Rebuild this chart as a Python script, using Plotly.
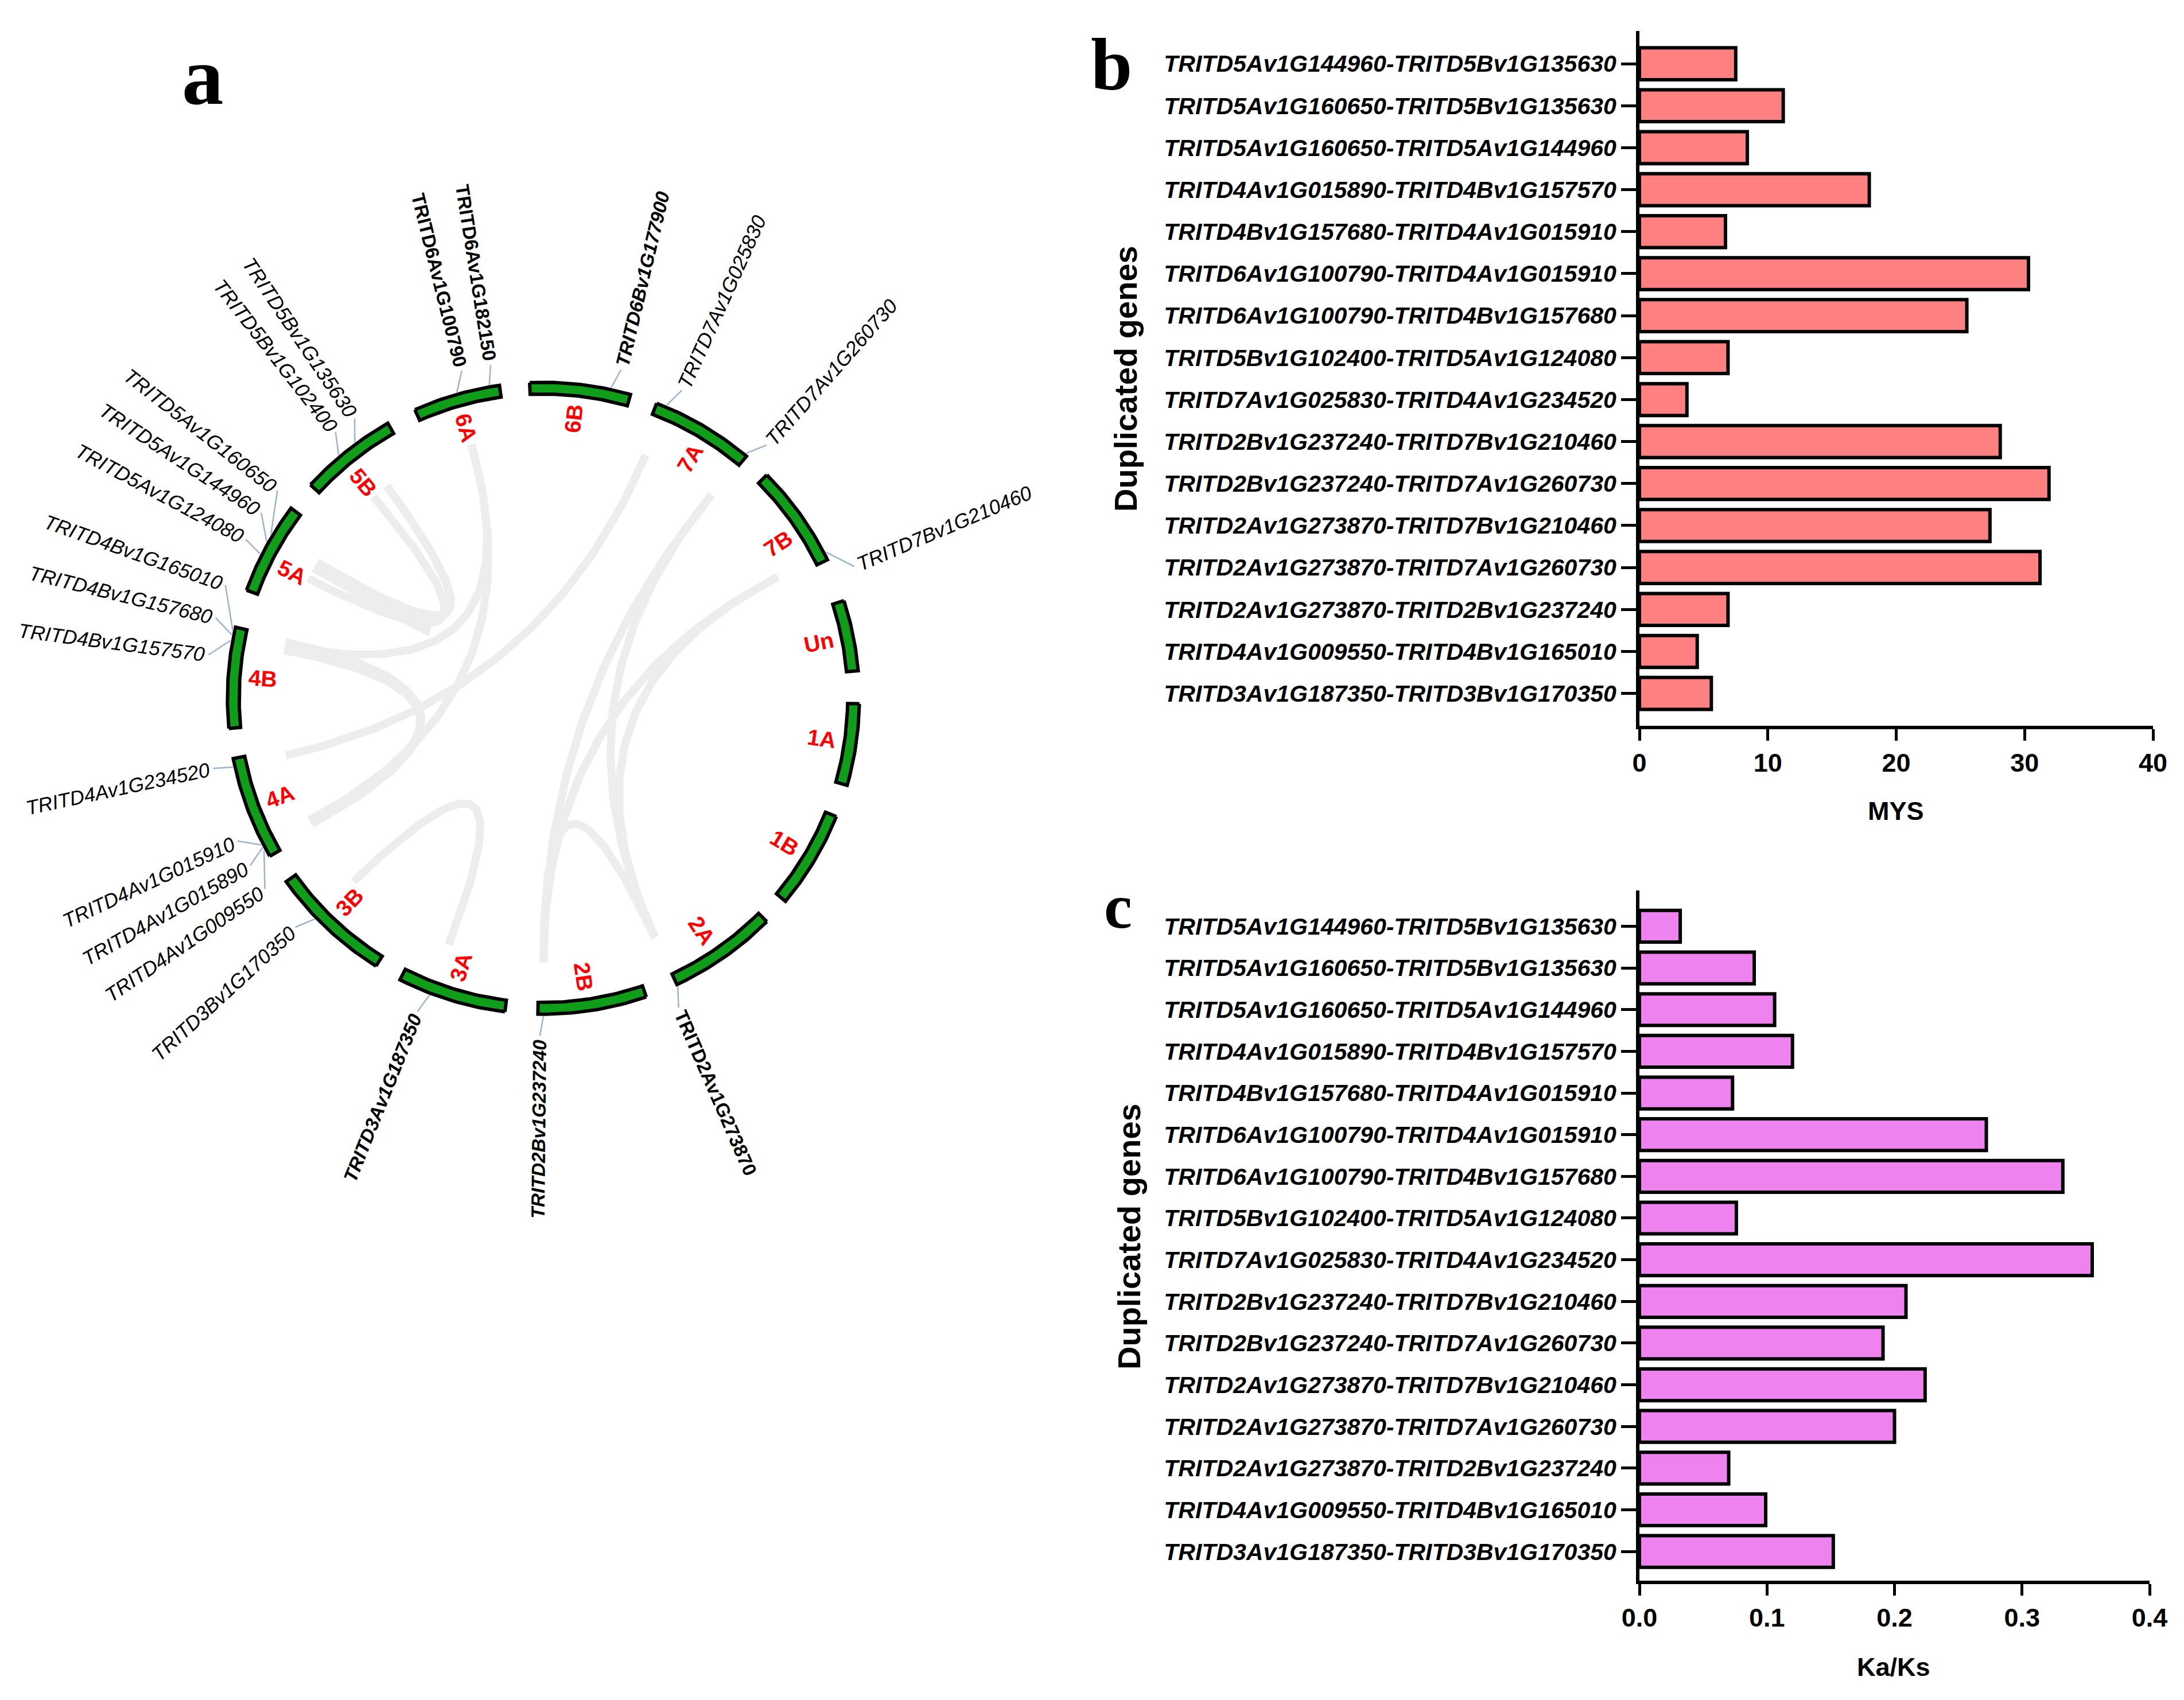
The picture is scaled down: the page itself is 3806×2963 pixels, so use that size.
import math
import plotly.graph_objects as go

# ---------------- data ----------------
pairs = [
    "TRITD5Av1G144960-TRITD5Bv1G135630",
    "TRITD5Av1G160650-TRITD5Bv1G135630",
    "TRITD5Av1G160650-TRITD5Av1G144960",
    "TRITD4Av1G015890-TRITD4Bv1G157570",
    "TRITD4Bv1G157680-TRITD4Av1G015910",
    "TRITD6Av1G100790-TRITD4Av1G015910",
    "TRITD6Av1G100790-TRITD4Bv1G157680",
    "TRITD5Bv1G102400-TRITD5Av1G124080",
    "TRITD7Av1G025830-TRITD4Av1G234520",
    "TRITD2Bv1G237240-TRITD7Bv1G210460",
    "TRITD2Bv1G237240-TRITD7Av1G260730",
    "TRITD2Av1G273870-TRITD7Bv1G210460",
    "TRITD2Av1G273870-TRITD7Av1G260730",
    "TRITD2Av1G273870-TRITD2Bv1G237240",
    "TRITD4Av1G009550-TRITD4Bv1G165010",
    "TRITD3Av1G187350-TRITD3Bv1G170350",
]
mys = [7.5, 11.2, 8.4, 17.9, 6.7, 30.3, 25.5, 6.9, 3.7, 28.1, 31.9, 27.3, 31.2, 6.9, 4.5, 5.6]
kaks = [0.032, 0.090, 0.106, 0.120, 0.073, 0.272, 0.332, 0.076, 0.355, 0.209, 0.191,
        0.224, 0.200, 0.070, 0.099, 0.152]

chrom_names = ["6B", "7A", "7B", "Un", "1A", "1B", "2A", "2B", "3A", "3B", "4A", "4B", "5A", "5B", "6A"]
chrom_start = [-2.5, 21, 45, 72, 91, 112, 135, 161, 187, 212, 240, 264.5, 290, 312.5, 336]
chrom_end = [16, 40, 64, 85, 106, 130, 155, 181, 207, 234.5, 259, 283, 307, 330.5, 352]
chrom_label_angle = [6.2, 31.5, 56.6, 78.5, 98.3, 121, 145.7, 171.8, 197, 223.6, 249.5, 274, 296.6, 320.1, 344]

gene_names = [
    "TRITD6Bv1G177900", "TRITD7Av1G025830", "TRITD7Av1G260730", "TRITD7Bv1G210460",
    "TRITD2Av1G273870", "TRITD2Bv1G237240", "TRITD3Av1G187350", "TRITD3Bv1G170350",
    "TRITD4Av1G009550", "TRITD4Av1G015890", "TRITD4Av1G015910", "TRITD4Av1G234520",
    "TRITD4Bv1G157570", "TRITD4Bv1G157680", "TRITD4Bv1G165010", "TRITD5Av1G124080",
    "TRITD5Av1G144960", "TRITD5Av1G160650", "TRITD5Bv1G102400", "TRITD5Bv1G135630",
    "TRITD6Av1G100790", "TRITD6Av1G182150",
]
gene_pos = [12.3, 22.8, 39.6, 62.6, 155, 180, 201, 226, 241.5, 242, 242.5, 257.5,
            280.5, 281.5, 282.3, 297, 299.5, 301, 319.9, 323.6, 344.2, 350.2]
gene_label_pos = [13.3, 24.2, 41.4, 67, 156.4, 180.6, 201.9, 227.3, 235.6, 240.3, 245, 258,
                  277.4, 283.8, 289.6, 298.1, 303.3, 308, 322, 326, 346, 351]
gene_bold = [True, False, False, False, True, True, True, False, False, False, False, False,
             False, False, False, False, False, False, False, False, True, True]
gene_italic = [True, True, True, True, False, True, True, True, True, True, True, True,
               True, True, True, True, True, True, True, True, False, False]

# ---------------- geometry helpers ----------------
W, H = 3806, 2963
R_PX = 554.0          # ring outer radius in px
CX, CY = 947.0, 1217.0

REG = {"T": .611, "R": .722, "I": .278, "D": .722, "A": .667, "B": .667, "v": .5, "G": .778}
BLD = {"T": .611, "R": .722, "I": .278, "D": .722, "A": .722, "B": .722, "v": .556, "G": .778}


def text_w(s, size, bold):
    tab = BLD if bold else REG
    return sum(tab.get(c, .556) for c in s) * size


def pol(r, ang):
    a = math.radians(ang)
    return r * math.sin(a), r * math.cos(a)


fig = go.Figure()

# links
gidx = {g: i for i, g in enumerate(gene_names)}
R_LINK = 0.83
for p in pairs:
    a, b = p.split("-")
    x0, y0 = pol(R_LINK, gene_pos[gidx[a]])
    x2, y2 = pol(R_LINK, gene_pos[gidx[b]])
    xs, ys = [], []
    n = 80
    for k in range(n + 1):
        t = k / n
        xs.append((1 - t) ** 2 * x0 + t ** 2 * x2)
        ys.append((1 - t) ** 2 * y0 + t ** 2 * y2)
    fig.add_trace(go.Scatter(x=xs, y=ys, mode="lines", xaxis="x3", yaxis="y3",
                             line=dict(color="#ededed", width=14), hoverinfo="skip",
                             showlegend=False))

# chromosome segments
R_OUT, R_IN = 0.994, 0.957
for name, s, e in zip(chrom_names, chrom_start, chrom_end):
    n = 40
    xs, ys = [], []
    for k in range(n + 1):
        x, y = pol(R_OUT, s + (e - s) * k / n)
        xs.append(x); ys.append(y)
    for k in range(n, -1, -1):
        x, y = pol(R_IN, s + (e - s) * k / n)
        xs.append(x); ys.append(y)
    xs.append(xs[0]); ys.append(ys[0])
    fig.add_trace(go.Scatter(x=xs, y=ys, mode="lines", fill="toself", fillcolor="#0f9d1a",
                             line=dict(color="black", width=6), xaxis="x3", yaxis="y3",
                             hoverinfo="skip", showlegend=False))

annotations = []

# chromosome labels
for name, ang in zip(chrom_names, chrom_label_angle):
    a = ang % 360
    rot = a - 90 if a < 180 else a - 270
    x, y = pol(0.885, a)
    annotations.append(dict(x=x, y=y, xref="x3", yref="y3", text=name, showarrow=False,
                            textangle=rot, xanchor="center", yanchor="middle",
                            font=dict(family="Liberation Sans", size=39, color="#ff0000",
                                      weight="bold")))

# gene labels and connectors
R_LAB = 1.062
for g, gp, lp, bd, it in zip(gene_names, gene_pos, gene_label_pos, gene_bold, gene_italic):
    size = 33 if bd else 35
    x0, y0 = pol(1.0, gp)
    x1, y1 = pol(R_LAB, lp)
    fig.add_trace(go.Scatter(x=[x0, x1], y=[y0, y1], mode="lines", xaxis="x3", yaxis="y3",
                             line=dict(color="#9db4cc", width=2.5), hoverinfo="skip",
                             showlegend=False))
    a = lp % 360
    rot = a - 90 if a < 180 else a - 270
    w = text_w(g, size, bd) / R_PX
    xc, yc = pol(R_LAB + 0.012 + w / 2, a)
    annotations.append(dict(x=xc, y=yc, xref="x3", yref="y3", text=g, showarrow=False,
                            textangle=rot, xanchor="center", yanchor="middle",
                            font=dict(family="Liberation Sans", size=size, color="black",
                                      weight="bold" if bd else "normal",
                                      style="italic" if it else "normal")))

# ---------------- bar charts ----------------
fig.add_trace(go.Bar(x=mys, y=pairs, orientation="h", xaxis="x", yaxis="y",
                     marker=dict(color="#ff8080", line=dict(color="black", width=6)),
                     showlegend=False))
fig.add_trace(go.Bar(x=kaks, y=pairs, orientation="h", xaxis="x2", yaxis="y2",
                     marker=dict(color="#ee82ee", line=dict(color="black", width=6)),
                     showlegend=False))

ytick_font = dict(family="Liberation Sans", size=41, color="black", weight="bold", style="italic")
xtick_font = dict(family="Liberation Sans", size=45, color="black", weight="bold")

common_x = dict(showline=True, linecolor="black", linewidth=6, ticks="outside", ticklen=20,
                tickwidth=5, tickcolor="black", showgrid=False, zeroline=False,
                tickfont=xtick_font, automargin=False)
common_y = dict(showline=True, linecolor="black", linewidth=6, ticks="outside", ticklen=26,
                tickwidth=5, tickcolor="black", showgrid=False, zeroline=False,
                tickfont=ytick_font, type="category", automargin=False)

fig.update_layout(
    template="none",
    width=W, height=H, margin=dict(l=0, r=0, t=0, b=0, pad=0, autoexpand=False),
    paper_bgcolor="white", plot_bgcolor="rgba(0,0,0,0)",
    bargap=0.24, showlegend=False,
    xaxis=dict(domain=[2857 / W, 3752 / W], range=[0, 40], dtick=10, anchor="y", **common_x),
    yaxis=dict(domain=[1 - 1265 / H, 1 - 54 / H], range=[15.77, -0.78], anchor="x", **common_y),
    xaxis2=dict(domain=[2857 / W, 3746 / W], range=[0, 0.4], dtick=0.1, tickformat=".1f",
                anchor="y2", **common_x),
    yaxis2=dict(domain=[1 - 2755 / H, 1 - 1552 / H], range=[15.7, -0.86], anchor="x2", **common_y),
    xaxis3=dict(domain=[0, 1900 / W], range=[-CX / R_PX, (1900 - CX) / R_PX], visible=False,
                anchor="y3", automargin=False),
    yaxis3=dict(domain=[0, 1], range=[-(H - CY) / R_PX, CY / R_PX], visible=False, anchor="x3",
                automargin=False),
)

title_font = dict(family="Liberation Sans", size=45, color="black", weight="bold")
gt_font = dict(family="Liberation Sans", size=56, color="black", weight="bold")
letter_font = dict(family="Liberation Serif", color="black", weight="bold")

annotations += [
    dict(x=3304 / W, y=1 - 1413 / H, xref="paper", yref="paper", text="MYS", showarrow=False,
         font=title_font, xanchor="center", yanchor="middle"),
    dict(x=3300 / W, y=1 - 2905 / H, xref="paper", yref="paper", text="Ka/Ks", showarrow=False,
         font=title_font, xanchor="center", yanchor="middle"),
    dict(x=1961 / W, y=1 - 660 / H, xref="paper", yref="paper", text="Duplicated genes",
         showarrow=False, textangle=-90, font=gt_font, xanchor="center", yanchor="middle"),
    dict(x=1967 / W, y=1 - 2155 / H, xref="paper", yref="paper", text="Duplicated genes",
         showarrow=False, textangle=-90, font=gt_font, xanchor="center", yanchor="middle"),
    dict(x=353 / W, y=1 - 132 / H, xref="paper", yref="paper", text="a", showarrow=False,
         font=dict(size=145, **letter_font), xanchor="center", yanchor="middle"),
    dict(x=1937 / W, y=1 - 112 / H, xref="paper", yref="paper", text="b", showarrow=False,
         font=dict(size=130, **letter_font), xanchor="center", yanchor="middle"),
    dict(x=1949 / W, y=1 - 1580 / H, xref="paper", yref="paper", text="c", showarrow=False,
         font=dict(size=110, **letter_font), xanchor="center", yanchor="middle"),
]
fig.update_layout(annotations=annotations)

fig.write_html("out.html", config={"displayModeBar": False},
               post_script="document.body.style.margin='0';")
